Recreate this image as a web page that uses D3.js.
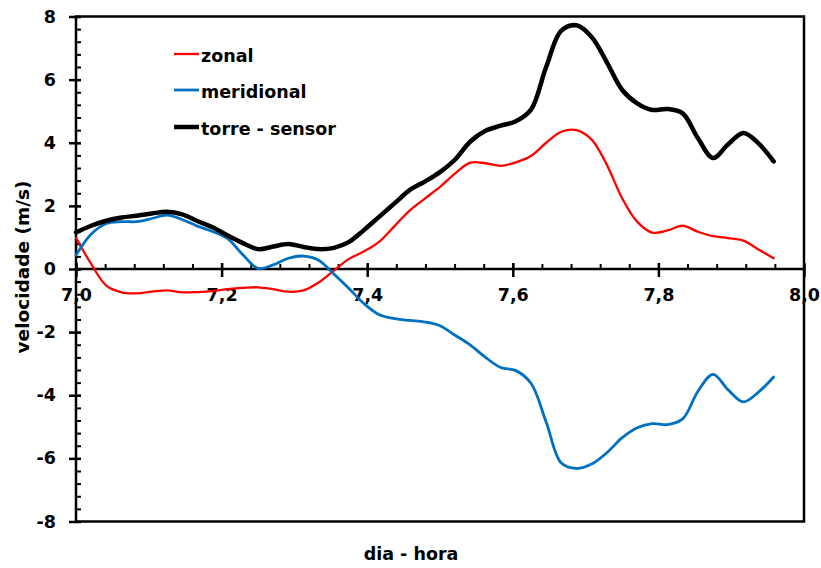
<!DOCTYPE html>
<html>
<head>
<meta charset="utf-8">
<script src="https://cdn.jsdelivr.net/npm/d3@7/dist/d3.min.js"></script>
<style>
  body { margin: 0; background: #fff; }
  svg { display: block; }
  text { font-family: "DejaVu Sans", Verdana, sans-serif; font-weight: bold; fill: #000; }
</style>
</head>
<body>
<svg id="chart" width="821" height="568"></svg>
<script>
// half-hourly samples, day 7 (dia + fraction of the day)
const dia = [7.0000, 7.0208, 7.0417, 7.0625, 7.0833, 7.1042, 7.1250, 7.1458, 7.1667, 7.1875,
             7.2083, 7.2292, 7.2500, 7.2708, 7.2917, 7.3125, 7.3333, 7.3542, 7.3750, 7.3958,
             7.4167, 7.4375, 7.4583, 7.4792, 7.5000, 7.5208, 7.5417, 7.5625, 7.5833, 7.6042,
             7.6250, 7.6458, 7.6667, 7.6875, 7.7083, 7.7292, 7.7500, 7.7708, 7.7917, 7.8125,
             7.8333, 7.8542, 7.8750, 7.8958, 7.9167, 7.9375, 7.9583];

// wind velocity components (m/s)
const zonal = [0.99, 0.16, -0.53, -0.74, -0.77, -0.72, -0.68, -0.74, -0.73, -0.70,
               -0.64, -0.60, -0.58, -0.64, -0.72, -0.68, -0.43, -0.05, 0.32, 0.56,
               0.87, 1.36, 1.85, 2.23, 2.60, 3.03, 3.37, 3.35, 3.27, 3.38,
               3.58, 4.00, 4.35, 4.40, 4.10, 3.30, 2.25, 1.50, 1.15, 1.22,
               1.37, 1.18, 1.04, 0.98, 0.90, 0.62, 0.34];

const meridional = [0.44, 1.10, 1.44, 1.50, 1.50, 1.60, 1.71, 1.57, 1.36, 1.19,
                    0.96, 0.45, 0.02, 0.13, 0.34, 0.41, 0.28, -0.16, -0.62, -1.10,
                    -1.45, -1.57, -1.63, -1.68, -1.80, -2.10, -2.41, -2.80, -3.12, -3.22,
                    -3.62, -4.85, -6.15, -6.32, -6.18, -5.82, -5.35, -5.03, -4.90, -4.93,
                    -4.75, -3.88, -3.34, -3.83, -4.21, -3.90, -3.42];

const torreSensor = [1.16, 1.37, 1.53, 1.63, 1.69, 1.76, 1.81, 1.73, 1.52, 1.32,
                     1.06, 0.82, 0.63, 0.71, 0.79, 0.70, 0.63, 0.67, 0.86, 1.24,
                     1.66, 2.08, 2.50, 2.77, 3.07, 3.47, 4.04, 4.38, 4.54, 4.68,
                     5.05, 6.40, 7.55, 7.72, 7.35, 6.55, 5.68, 5.25, 5.04, 5.07,
                     4.93, 4.15, 3.52, 3.95, 4.31, 3.98, 3.41];

const seriesNames = ["zonal", "meridional", "torre - sensor"];
const seriesColors = ["#ff0000", "#0070c0", "#000000"];
const seriesWidths = [2.3, 2.8, 4.5];

const xMajor = [7.0, 7.2, 7.4, 7.6, 7.8, 8.0];
const yMajor = [-8, -6, -4, -2, 0, 2, 4, 6, 8];

const svg = d3.select("#chart");

const x = d3.scaleLinear().domain([7.0, 8.0]).range([76, 804]);
const y = d3.scaleLinear().domain([-8, 8]).range([521.5, 16.5]);

const xMinor = d3.range(0, 26).map(i => 7 + i * 0.04);
const yMinor = d3.range(0, 41).map(i => -8 + i * 0.4);

// minor ticks (inside the plot)
svg.append("g")
  .attr("transform", `translate(0,${y(0)})`)
  .call(d3.axisTop(x).tickValues(xMinor).tickSize(5).tickFormat(""))
  .call(g => g.select(".domain").remove())
  .call(g => g.selectAll("line").attr("stroke-width", 2));

svg.append("g")
  .attr("transform", `translate(${x(7)},0)`)
  .call(d3.axisRight(y).tickValues(yMinor).tickSize(5).tickFormat(""))
  .call(g => g.select(".domain").remove())
  .call(g => g.selectAll("line").attr("stroke-width", 2));

// major ticks crossing the axes, with labels
svg.append("g")
  .attr("transform", `translate(0,${y(0)})`)
  .call(d3.axisTop(x).tickValues(xMajor).tickSize(6).tickFormat(""))
  .call(g => g.select(".domain").remove())
  .call(g => g.selectAll("line").attr("stroke-width", 2.5));

svg.append("g")
  .attr("transform", `translate(0,${y(0)})`)
  .call(d3.axisBottom(x).tickValues(xMajor).tickSize(8).tickPadding(12)
        .tickFormat(d => d3.format(".1f")(d).replace(".", ",")))
  .call(g => g.select(".domain").remove())
  .call(g => g.selectAll("line").attr("stroke-width", 2.5))
  .call(g => g.selectAll("text").style("font-size", "17.5px"));

svg.append("g")
  .attr("transform", `translate(${x(7)},0)`)
  .call(d3.axisLeft(y).tickValues(yMajor).tickSize(7).tickPadding(13).tickFormat(d => String(d)))
  .call(g => g.select(".domain").remove())
  .call(g => g.selectAll("line").attr("stroke-width", 2.5))
  .call(g => g.selectAll("text").style("font-size", "17.5px"));

svg.append("g")
  .attr("transform", `translate(${x(7)},0)`)
  .call(d3.axisRight(y).tickValues(yMajor).tickSize(5).tickFormat(""))
  .call(g => g.select(".domain").remove())
  .call(g => g.selectAll("line").attr("stroke-width", 2.5));

// plot frame and zero line
svg.append("rect")
  .attr("x", x(7)).attr("y", y(8))
  .attr("width", x(8) - x(7)).attr("height", y(-8) - y(8))
  .attr("fill", "none").attr("stroke", "#000").attr("stroke-width", 2.5);

svg.append("line")
  .attr("x1", x(7)).attr("x2", x(8))
  .attr("y1", y(0)).attr("y2", y(0))
  .attr("stroke", "#000").attr("stroke-width", 2.5);

// series
const values = [zonal, meridional, torreSensor];
const line = d3.line()
  .x(d => x(d[0]))
  .y(d => y(d[1]))
  .curve(d3.curveCatmullRom.alpha(0.5));

values.forEach((vals, i) => {
  svg.append("path")
    .datum(dia.map((t, k) => [t, vals[k]]))
    .attr("d", line)
    .attr("fill", "none")
    .attr("stroke", seriesColors[i])
    .attr("stroke-width", seriesWidths[i])
    .attr("stroke-linejoin", "round")
    .attr("stroke-linecap", "round");
});

// legend
const legend = svg.append("g");
const legendY = [54, 90, 127];
seriesNames.forEach((name, i) => {
  legend.append("line")
    .attr("x1", 174).attr("x2", 199)
    .attr("y1", legendY[i]).attr("y2", legendY[i])
    .attr("stroke", seriesColors[i])
    .attr("stroke-width", seriesWidths[i]);
  legend.append("text")
    .attr("x", 201).attr("y", legendY[i] + 7.5)
    .style("font-size", "17.5px")
    .text(name);
});

// axis titles
svg.append("text")
  .attr("transform", "translate(29,267) rotate(-90)")
  .attr("text-anchor", "middle")
  .style("font-size", "18.5px")
  .text("velocidade (m/s)");

svg.append("text")
  .attr("x", 411).attr("y", 560)
  .attr("text-anchor", "middle")
  .style("font-size", "17.5px")
  .text("dia - hora");
</script>
</body>
</html>
